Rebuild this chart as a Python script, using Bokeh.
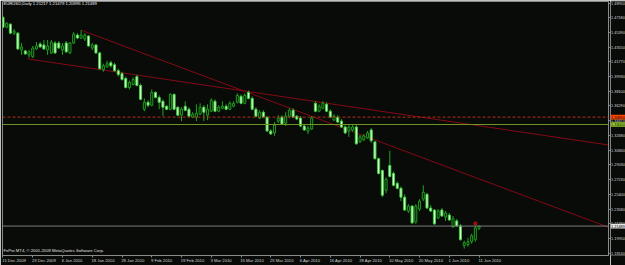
from bokeh.plotting import figure
from bokeh.layouts import row
from bokeh.models import Range1d, FixedTicker, Label, Span, ColumnDataSource, LinearAxis
from bokeh.core.properties import value
from bokeh.embed import file_html
from bokeh.resources import INLINE

# ---------------- data ----------------
symbol = "EURUSD"
timeframe = "Daily"
copyright_text = "FxPro MT4, \u00a9 2001-2009 MetaQuotes Software Corp."

opens = [1.4721, 1.4599, 1.4636, 1.4526, 1.4526, 1.4319, 1.4307, 1.4258, 1.4234, 1.4331,
         1.4392, 1.4380, 1.4319, 1.4282, 1.4404, 1.4404, 1.4319, 1.4404, 1.4282, 1.4404,
         1.4502, 1.4465, 1.4453, 1.4490, 1.4343, 1.4380, 1.4282, 1.4075, 1.4112, 1.4161,
         1.4136, 1.4063, 1.4027, 1.3966, 1.3856, 1.3893, 1.3990, 1.3881, 1.3588, 1.3674,
         1.3637, 1.3795, 1.3734, 1.3686, 1.3625, 1.3588, 1.3771, 1.3613, 1.3515, 1.3625,
         1.3588, 1.3491, 1.3491, 1.3527, 1.3613, 1.3515, 1.3564, 1.3686, 1.3564, 1.3600,
         1.3625, 1.3588, 1.3625, 1.3674, 1.3747, 1.3661, 1.3795, 1.3722, 1.3588, 1.3479,
         1.3552, 1.3491, 1.3320, 1.3296, 1.3442, 1.3491, 1.3418, 1.3503, 1.3576, 1.3503,
         1.3479, 1.3381, 1.3320, 1.3345, 1.3661, 1.3564, 1.3600, 1.3649, 1.3564, 1.3454,
         1.3491, 1.3442, 1.3369, 1.3320, 1.3333, 1.3369, 1.3186, 1.3211, 1.3235, 1.3333,
         1.3186, 1.2979, 1.2833, 1.2590, 1.2894, 1.2797, 1.2675, 1.2614, 1.2505, 1.2334,
         1.2395, 1.2200, 1.2358, 1.2480, 1.2541, 1.2371, 1.2346, 1.2249, 1.2346, 1.2261,
         1.2285, 1.2139, 1.2212, 1.2151, 1.1908, 1.1920, 1.1956, 1.1981, 1.21217]
highs = [1.4733, 1.4660, 1.4648, 1.4575, 1.4538, 1.4404, 1.4319, 1.4319, 1.4368, 1.4416,
         1.4416, 1.4441, 1.4441, 1.4441, 1.4429, 1.4429, 1.4404, 1.4429, 1.4416, 1.4538,
         1.4526, 1.4563, 1.4526, 1.4502, 1.4404, 1.4392, 1.4295, 1.4149, 1.4185, 1.4185,
         1.4161, 1.4088, 1.4051, 1.3990, 1.3941, 1.3978, 1.4015, 1.3905, 1.3722, 1.3698,
         1.3832, 1.3808, 1.3759, 1.3710, 1.3637, 1.3783, 1.3783, 1.3625, 1.3613, 1.3686,
         1.3613, 1.3552, 1.3649, 1.3661, 1.3637, 1.3649, 1.3722, 1.3710, 1.3637, 1.3686,
         1.3649, 1.3686, 1.3686, 1.3783, 1.3771, 1.3783, 1.3820, 1.3747, 1.3613, 1.3576,
         1.3576, 1.3503, 1.3345, 1.3430, 1.3515, 1.3515, 1.3552, 1.3600, 1.3600, 1.3515,
         1.3503, 1.3406, 1.3381, 1.3503, 1.3686, 1.3649, 1.3686, 1.3674, 1.3588, 1.3527,
         1.3515, 1.3467, 1.3393, 1.3393, 1.3406, 1.3393, 1.3272, 1.3284, 1.3320, 1.3357,
         1.3199, 1.2992, 1.2846, 1.2748, 1.3077, 1.2821, 1.2699, 1.2638, 1.2541, 1.2419,
         1.2407, 1.2419, 1.2480, 1.2651, 1.2553, 1.2407, 1.2358, 1.2358, 1.2371, 1.2334,
         1.2310, 1.2273, 1.2237, 1.2176, 1.1969, 1.2005, 1.2054, 1.2151, 1.21479]
lows = [1.4587, 1.4587, 1.4514, 1.4502, 1.4319, 1.4258, 1.4258, 1.4222, 1.4222, 1.4319,
        1.4343, 1.4319, 1.4258, 1.4270, 1.4270, 1.4331, 1.4258, 1.4282, 1.4270, 1.4392,
        1.4453, 1.4453, 1.4429, 1.4356, 1.4319, 1.4270, 1.4075, 1.4051, 1.4100, 1.4100,
        1.4051, 1.3990, 1.3941, 1.3844, 1.3832, 1.3881, 1.3868, 1.3698, 1.3564, 1.3613,
        1.3625, 1.3722, 1.3588, 1.3503, 1.3576, 1.3576, 1.3576, 1.3503, 1.3442, 1.3564,
        1.3491, 1.3479, 1.3442, 1.3515, 1.3442, 1.3454, 1.3552, 1.3552, 1.3552, 1.3588,
        1.3576, 1.3576, 1.3613, 1.3661, 1.3649, 1.3649, 1.3710, 1.3576, 1.3491, 1.3467,
        1.3479, 1.3308, 1.3272, 1.3260, 1.3418, 1.3393, 1.3381, 1.3479, 1.3479, 1.3454,
        1.3369, 1.3320, 1.3284, 1.3333, 1.3552, 1.3552, 1.3588, 1.3552, 1.3479, 1.3442,
        1.3418, 1.3357, 1.3284, 1.3247, 1.3308, 1.3150, 1.3174, 1.3199, 1.3223, 1.3174,
        1.2967, 1.2785, 1.2505, 1.2553, 1.2748, 1.2638, 1.2602, 1.2456, 1.2334, 1.2310,
        1.2176, 1.2176, 1.2334, 1.2456, 1.2358, 1.2322, 1.2164, 1.2237, 1.2261, 1.2212,
        1.2212, 1.2127, 1.2139, 1.1969, 1.1871, 1.1896, 1.1932, 1.1956, 1.20995]
closes = [1.4599, 1.4648, 1.4526, 1.4550, 1.4331, 1.4356, 1.4270, 1.4295, 1.4343, 1.4368,
          1.4356, 1.4331, 1.4368, 1.4416, 1.4282, 1.4343, 1.4368, 1.4295, 1.4404, 1.4514,
          1.4465, 1.4502, 1.4502, 1.4368, 1.4380, 1.4282, 1.4088, 1.4124, 1.4149, 1.4124,
          1.4063, 1.4015, 1.3954, 1.3856, 1.3917, 1.3954, 1.3881, 1.3710, 1.3674, 1.3637,
          1.3795, 1.3734, 1.3674, 1.3613, 1.3588, 1.3771, 1.3588, 1.3515, 1.3588, 1.3576,
          1.3503, 1.3527, 1.3540, 1.3613, 1.3552, 1.3588, 1.3698, 1.3564, 1.3613, 1.3625,
          1.3588, 1.3661, 1.3661, 1.3759, 1.3661, 1.3759, 1.3722, 1.3588, 1.3503, 1.3552,
          1.3491, 1.3320, 1.3284, 1.3393, 1.3479, 1.3406, 1.3503, 1.3576, 1.3491, 1.3467,
          1.3381, 1.3333, 1.3357, 1.3479, 1.3564, 1.3625, 1.3661, 1.3564, 1.3491, 1.3503,
          1.3430, 1.3369, 1.3296, 1.3369, 1.3369, 1.3162, 1.3247, 1.3260, 1.3296, 1.3199,
          1.2979, 1.2797, 1.2529, 1.2724, 1.2760, 1.2651, 1.2614, 1.2505, 1.2346, 1.2395,
          1.2188, 1.2395, 1.2456, 1.2565, 1.2371, 1.2334, 1.2176, 1.2334, 1.2273, 1.2310,
          1.2224, 1.2237, 1.2151, 1.1981, 1.1944, 1.1956, 1.2030, 1.2127, 1.21489]

date_labels = ["11 Dec 2009", "23 Dec 2009", "6 Jan 2010", "18 Jan 2010", "28 Jan 2010",
               "9 Feb 2010", "19 Feb 2010", "3 Mar 2010", "15 Mar 2010", "25 Mar 2010",
               "6 Apr 2010", "16 Apr 2010", "28 Apr 2010", "10 May 2010", "20 May 2010",
               "1 Jun 2010", "11 Jun 2010"]
date_label_step = 8  # bars between date labels

price_ticks = [1.48950, 1.47180, 1.45390, 1.43550, 1.41770, 1.39930, 1.38100, 1.36290,
               1.34470, 1.32680, 1.30840, 1.29030, 1.27230, 1.25400, 1.23580, 1.21760,
               1.19950, 1.18140]

# trendlines: two anchor points each (bar index, price)
trend_x0 = [21, 6.6]
trend_y0 = [1.4563, 1.4209]
trend_x1 = [162.5, 162.5]
trend_y1 = [1.2139, 1.3150]

# horizontal levels
level_prices = [1.34910, 1.34000]
level_colors = ["#ff4500", "#9acd32"]
level_line_colors = ["#b0301a", "#6f9526"]
level_dashes = ["3 2", "solid"]

marker_bar = [127]
marker_price = [1.2180]

# ---------------- style ----------------
BG = "#080b08"
FG = "#d4d4d4"
BORDER = "#8a8a8a"
FONT = "Liberation Sans"
FS_PX = 4.2
FS = f"{FS_PX}px"
FS_PRICE = "3.8px"
MAIN_W, H = 610, 265
BORDER_L, BORDER_T, BORDER_B = 2, 1, 7
FRAME_R = MAIN_W - 2           # right axis panel holds only 2px tick marks
X0, X1 = -0.13, 162.8

n = len(opens)
bars = list(range(n))
date_ticks = list(range(0, n, date_label_step))
x_range = Range1d(X0, X1)
y_range = Range1d(1.17860, 1.49157)

# approximate Liberation Sans advance widths (em) to left-align date labels at their ticks
CHAR_W = {" ": 0.278, "D": 0.722, "J": 0.5, "F": 0.611, "M": 0.833, "A": 0.667, "r": 0.333,
          "c": 0.5, "y": 0.5}
px_per_bar = (FRAME_R - BORDER_L) / (X1 - X0)
label_pos = []
for t, lab in zip(date_ticks, date_labels):
    w_px = sum(CHAR_W.get(ch, 0.556) for ch in lab) * FS_PX
    label_pos.append(t + (w_px / 2 - 0.8) / px_per_bar)


def style_axis(ax, tick_color, tick_out):
    ax.axis_line_color = tick_color
    ax.major_tick_line_color = tick_color
    ax.major_tick_out = tick_out
    ax.major_tick_in = 0
    ax.minor_tick_line_color = None
    ax.major_label_standoff = 0


# ---------------- main chart ----------------
p = figure(width=MAIN_W, height=H, output_backend="svg", toolbar_location=None,
           x_range=x_range, y_range=y_range,
           y_axis_location="right", x_axis_location="below",
           min_border_left=BORDER_L, min_border_top=BORDER_T, min_border_right=0,
           min_border_bottom=BORDER_B,
           background_fill_color=BG, border_fill_color=BG,
           outline_line_color=BORDER, outline_line_width=1)
p.grid.visible = False
xa = p.xaxis[0]
xa.ticker = FixedTicker(ticks=date_ticks)
xa.major_label_overrides = {t: "" for t in date_ticks}
xa.major_label_text_font_size = "0px"
style_axis(xa, BORDER, 2)
ya = p.yaxis[0]
ya.ticker = FixedTicker(ticks=price_ticks)
ya.major_label_overrides = {t: "" for t in price_ticks}
ya.major_label_text_font_size = "0px"
style_axis(ya, BORDER, 2)

xl = LinearAxis(ticker=FixedTicker(ticks=label_pos),
                major_label_overrides={pos: lab for pos, lab in zip(label_pos, date_labels)})
style_axis(xl, None, 0)
xl.major_label_text_font = FONT
xl.major_label_text_font_size = FS
xl.major_label_text_color = FG
p.add_layout(xl, "below")

# horizontal lines
for pr, lc, ld in zip(level_prices, level_line_colors, level_dashes):
    p.add_layout(Span(location=pr, dimension="width", line_color=lc, line_width=1, line_dash=ld))
p.add_layout(Span(location=closes[-1], dimension="width", line_color="#7c7c7c", line_width=1))

# trendlines extended to the right edge
ex_x1, ex_y1 = [], []
for x0, y0, x1, y1 in zip(trend_x0, trend_y0, trend_x1, trend_y1):
    k = (y1 - y0) / (x1 - x0)
    ex_x1.append(170)
    ex_y1.append(y0 + k * (170 - x0))
p.segment(x0=trend_x0, y0=trend_y0, x1=ex_x1, y1=ex_y1, line_color="#850a16", line_width=1)

# candles
src = ColumnDataSource(dict(
    x=bars, h=[max(a, b, c) for a, b, c in zip(highs, opens, closes)], l=lows,
))
p.segment(x0="x", y0="l", x1="x", y1="h", source=src, line_color="#21a321", line_width=1)
bull_idx = [i for i in bars if closes[i] >= opens[i]]
bear_idx = [i for i in bars if closes[i] < opens[i]]
p.vbar(x=[bars[i] for i in bull_idx], width=0.55,
       top=[max(opens[i], closes[i]) for i in bull_idx],
       bottom=[min(opens[i], closes[i]) for i in bull_idx],
       fill_color="#061006", line_color="#1f9c1f", line_width=1)
p.vbar(x=[bars[i] for i in bear_idx], width=0.55,
       top=[max(opens[i], closes[i]) for i in bear_idx],
       bottom=[min(opens[i], closes[i]) for i in bear_idx],
       fill_color="#e6ffe0", line_color="#40d040", line_width=1)

p.scatter(x=marker_bar, y=marker_price, marker="circle", size=3,
          fill_color="#8a0000", line_color="#e01010", line_width=1)

# header / footer texts (screen units measured from the frame's bottom-left)
header = f"{symbol},{timeframe}  {opens[-1]:.5f} {highs[-1]:.5f} {lows[-1]:.5f} {closes[-1]:.5f}"
p.add_layout(Label(x=1, y=255, x_units="screen", y_units="screen", text=header,
                   text_font=FONT, text_font_size=FS, text_color="#f0f0f0", text_baseline="top"))
p.add_layout(Label(x=1, y=3, x_units="screen", y_units="screen", text=copyright_text,
                   text_font=FONT, text_font_size=FS, text_color="#e0e0e0", text_baseline="bottom"))

# ---------------- price strip (right side) ----------------
s = figure(width=625 - MAIN_W, height=H, output_backend="svg", toolbar_location=None,
           x_range=Range1d(0, 625 - MAIN_W), y_range=y_range,
           y_axis_location=None, x_axis_location=None,
           min_border_left=0, min_border_right=0, min_border_top=BORDER_T,
           min_border_bottom=BORDER_B,
           background_fill_color=BG, border_fill_color=BG, outline_line_color=None)
s.grid.visible = False
s.text(x=[0.6] * len(price_ticks), y=price_ticks, text=[f"{t:.5f}" for t in price_ticks],
       text_font=value(FONT), text_font_size=FS_PRICE, text_color=FG,
       text_baseline="middle", text_align="left")

box_prices = level_prices + [closes[-1]]
box_colors = level_colors + ["#e4e4e4"]
half_h = 0.0029
s.quad(left=[0] * 3, right=[625 - MAIN_W] * 3, top=[b + half_h for b in box_prices],
       bottom=[b - half_h for b in box_prices], fill_color=box_colors, line_color=None)
s.text(x=[0.6] * 3, y=box_prices, text=[f"{b:.5f}" for b in box_prices],
       text_font=value(FONT), text_font_size=FS_PRICE, text_color="#000000",
       text_baseline="middle", text_align="left")

layout = row(p, s, spacing=0)
open("out.html", "w").write(file_html(layout, INLINE))
